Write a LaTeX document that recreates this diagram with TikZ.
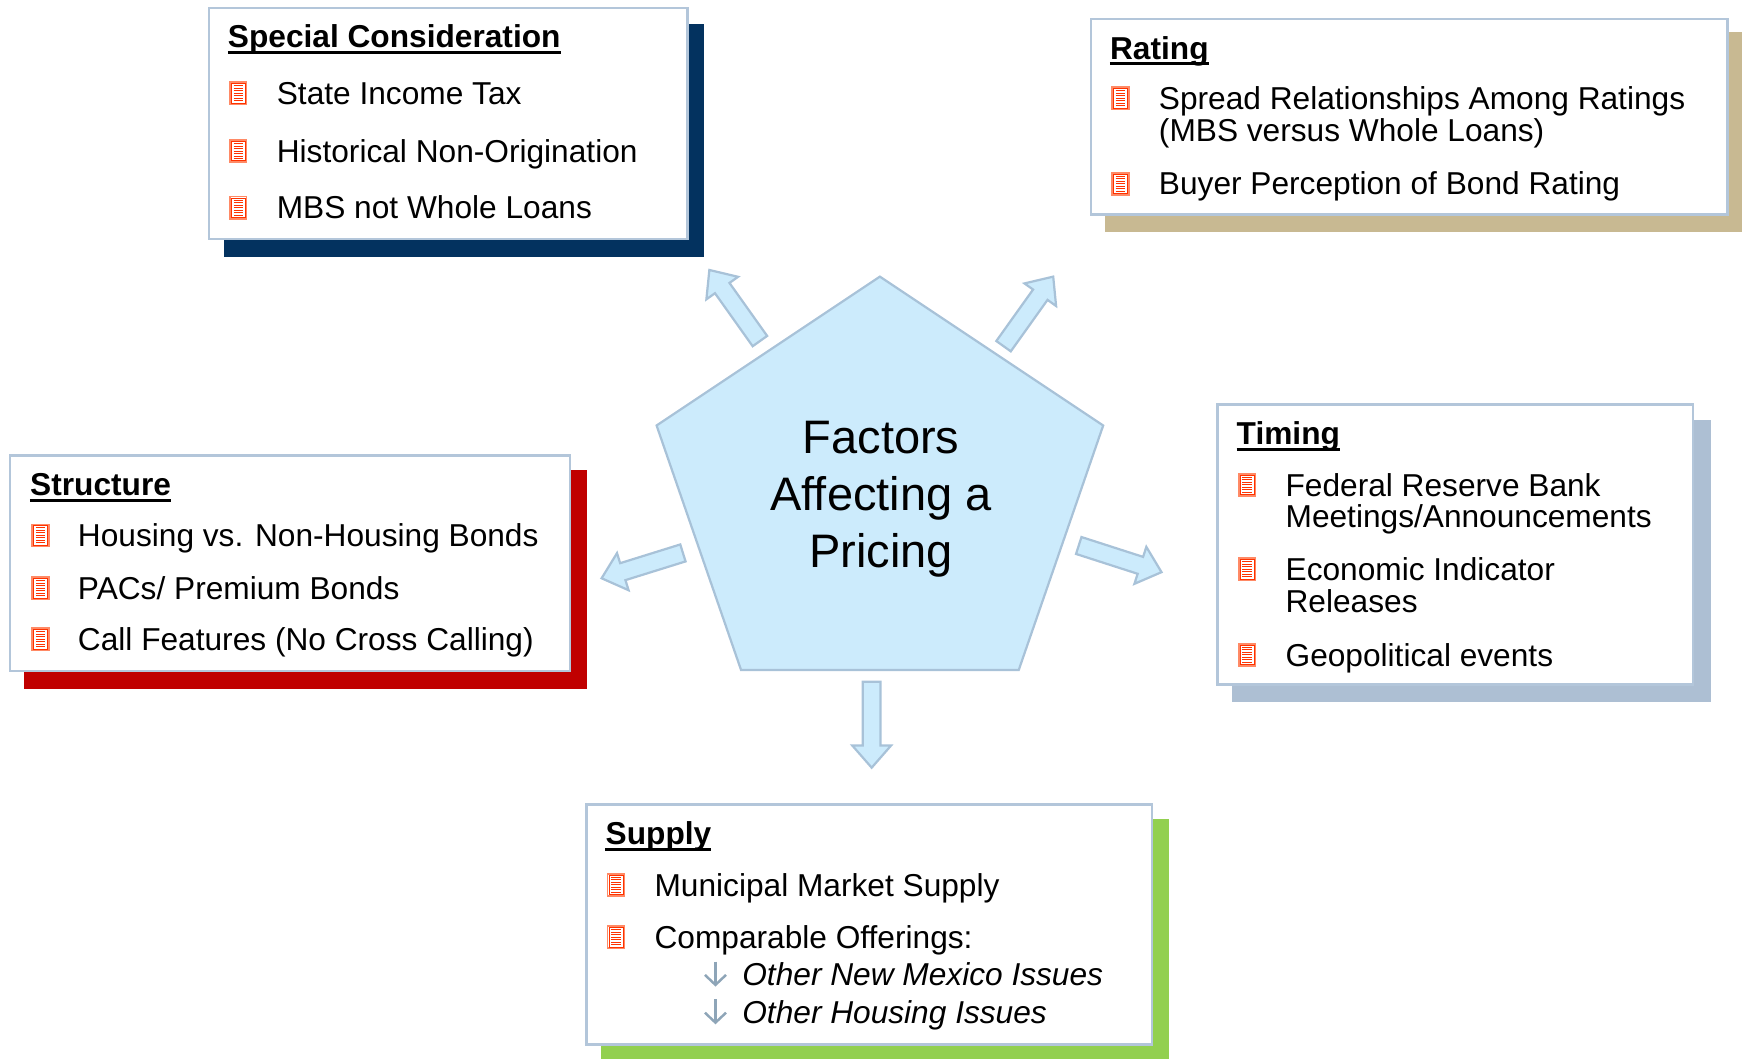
\documentclass[tikz,border=0pt]{standalone}
\usepackage{fontspec}
\setmainfont{Liberation Sans}
\usetikzlibrary{calc}
\definecolor{boxline}{HTML}{B3C6DA}
\definecolor{pentfill}{HTML}{CCEBFC}
\definecolor{pentline}{HTML}{A8C2D8}
\definecolor{shnavy}{HTML}{03325F}
\definecolor{shtan}{HTML}{C8B992}
\definecolor{shred}{HTML}{C00000}
\definecolor{shgray}{HTML}{ADBFD3}
\definecolor{shgreen}{HTML}{92D050}
\definecolor{iconred}{HTML}{FF3300}
\definecolor{iconrim}{HTML}{FF8A66}
\definecolor{subarrow}{HTML}{8EA5B8}
\tikzset{
  panel/.style={draw=boxline, line width=2.2pt, fill=white},
  txt/.style={anchor=base west, inner sep=0pt, font=\fontsize{28.5}{30}\selectfont},
  ttl/.style={anchor=base west, inner sep=0pt, font=\fontsize{28.5}{30}\selectfont\bfseries},
  subtxt/.style={anchor=base west, inner sep=0pt, font=\fontsize{28.5}{30}\selectfont\itshape},
  bigtxt/.style={anchor=base, inner sep=0pt, font=\fontsize{42.3}{50}\selectfont},
  blockarr/.style={fill=pentfill, draw=pentline, line width=2pt, line join=miter},
  uline/.style={line width=2.6pt},
  subarr/.style={draw=subarrow, line width=2.2pt},
}
\newcommand\docicon[1]{%
  \begin{scope}[shift={(#1)}]
    \draw[draw=iconrim, line width=1.4pt, fill=white] (0,0) rectangle (15,-20);
    \draw[draw=iconred, line width=0.7pt] (1.2,-1.2) rectangle (13.8,-18.8);
    \foreach \k in {1,...,7} \draw[iconred, line width=0.9pt] (3.2,{-2.25*\k-1.0}) -- (11.8,{-2.25*\k-1.0});
  \end{scope}}
\newcommand\blockarrow[2]{%
  \coordinate (#1-#2-b) at ($(#2)!20pt!(#1)$);
  \draw[blockarr] ($(#1)!8pt!90:(#2)$) -- ($(#1-#2-b)!8pt!90:(#2)$) -- ($(#1-#2-b)!17.5pt!90:(#2)$)
    -- (#2) -- ($(#1-#2-b)!17.5pt!-90:(#2)$) -- ($(#1-#2-b)!8pt!-90:(#2)$) -- ($(#1)!8pt!-90:(#2)$) -- cycle;}
\newcommand\titleline[1]{\draw[uline] ([yshift=-4pt]#1.base west) -- ([yshift=-4pt]#1.base east);}
\newcommand\subarrow[2]{\draw[subarr] (#1,#2-22) -- (#1,#2-1); \draw[subarr] (#1-9.5,#2-10) -- (#1,#2-1) -- (#1+9.5,#2-10);}
\begin{document}
\begin{tikzpicture}[x=1pt,y=-1pt]
\useasboundingbox (0,0) rectangle (1568,953);
\clip (0,0) rectangle (1568,953);

% ---------- Special Consideration ----------
\fill[shnavy] (202,22) rectangle (634,231);
\draw[panel] (188,7) rectangle (619,215);
\node[ttl] (sct) at (205,43) {Special Consideration};
\titleline{sct}
\node[txt] (sc1) at (249,94) {State Income Tax};
\node[txt] (sc2) at (249,146) {Historical Non-Origination};
\node[txt] (sc3) at (249,197) {MBS not Whole Loans};
\docicon{207,94} \docicon{207,146} \docicon{207,197}

% ---------- Rating ----------
\fill[shtan] (995,29) rectangle (1572,209);
\draw[panel] (982,17) rectangle (1555,193);
\node[ttl] (rtt) at (999,53.4) {Rating};
\titleline{rtt}
\node[txt] (rt1a) at (1043,98.4) {Spread Relationships Among Ratings};
\node[txt] (rt1b) at (1043,127.4) {(MBS versus Whole Loans)};
\node[txt] (rt2) at (1043,175.5) {Buyer Perception of Bond Rating};
\docicon{1001,98.4} \docicon{1001,175.5}

% ---------- Structure ----------
\fill[shred] (22,423) rectangle (528,620);
\draw[panel] (9,410) rectangle (513,604);
\node[ttl] (stt) at (27,446.4) {Structure};
\titleline{stt}
\node[txt] (st1) at (70,492) {Housing vs. Non-Housing Bonds};
\node[txt] (st2) at (70,539.5) {PACs/ Premium Bonds};
\node[txt] (st3) at (70,585.5) {Call Features (No Cross Calling)};
\docicon{29,492} \docicon{29,539.5} \docicon{29,585.5}

% ---------- Timing ----------
\fill[shgray] (1109,378) rectangle (1540,632);
\draw[panel] (1096,364) rectangle (1524,616);
\node[ttl] (tmt) at (1113,400.5) {Timing};
\titleline{tmt}
\node[txt] (tm1a) at (1157,446.5) {Federal Reserve Bank};
\node[txt] (tm1b) at (1157,475) {Meetings/Announcements};
\node[txt] (tm2a) at (1157,522.5) {Economic Indicator};
\node[txt] (tm2b) at (1157,551.5) {Releases};
\node[txt] (tm3) at (1157,599.5) {Geopolitical events};
\docicon{1115,446.5} \docicon{1115,522.5} \docicon{1115,599.5}

% ---------- Supply ----------
\fill[shgreen] (541,737) rectangle (1052,965);
\draw[panel] (528,724) rectangle (1037,940);
\node[ttl] (spt) at (545,760.5) {Supply};
\titleline{spt}
\node[txt] (sp1) at (589,806.5) {Municipal Market Supply};
\node[txt] (sp2) at (589,853.5) {Comparable Offerings:};
\node[subtxt] (sp2a) at (668,887.5) {Other New Mexico Issues};
\node[subtxt] (sp2b) at (668,921.5) {Other Housing Issues};
\docicon{547,806.5} \docicon{547,853.5}
\subarrow{644}{887.5}
\subarrow{644}{921.5}

% ---------- Centre pentagon ----------
\coordinate (p1) at (792,249);
\coordinate (p2) at (993,383);
\coordinate (p3) at (917,603);
\coordinate (p4) at (667,603);
\coordinate (p5) at (591,383);
\draw[fill=pentfill, draw=pentline, line width=2pt, line join=miter] (p1) -- (p2) -- (p3) -- (p4) -- (p5) -- cycle;
\node[bigtxt] (c1) at (793,408) {Factors};
\node[bigtxt] (c2) at (793,459.5) {Affecting a};
\node[bigtxt] (c3) at (793,511) {Pricing};

% ---------- Block arrows ----------
\coordinate (a1t) at (684,307);
\coordinate (a1h) at (638.5,243);
\coordinate (a2t) at (903.3,311.6);
\coordinate (a2h) at (948,249);
\coordinate (a3t) at (614.7,497.7);
\coordinate (a3h) at (541.5,520.5);
\coordinate (a4t) at (971,491);
\coordinate (a4h) at (1045.5,515);
\coordinate (a5t) at (784.6,613.6);
\coordinate (a5h) at (784.6,691);
\blockarrow{a1t}{a1h}
\blockarrow{a2t}{a2h}
\blockarrow{a3t}{a3h}
\blockarrow{a4t}{a4h}
\blockarrow{a5t}{a5h}
\end{tikzpicture}
\end{document}
